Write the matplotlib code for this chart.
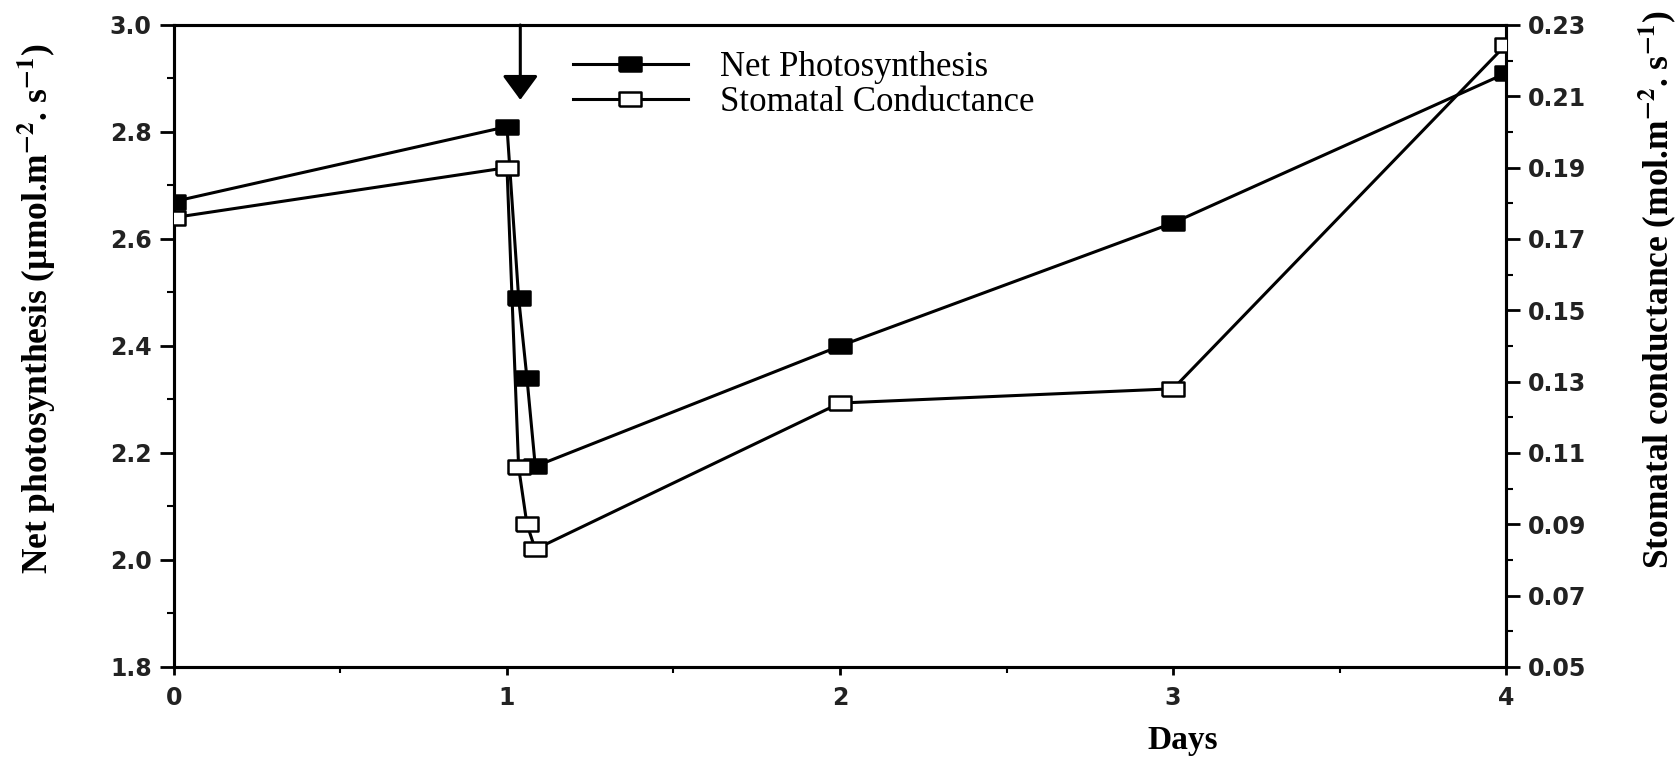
import matplotlib
matplotlib.use("Agg")
import matplotlib.pyplot as plt
from matplotlib.ticker import MultipleLocator, FixedLocator

# ---- data ----
days = [0, 1, 1.035, 1.06, 1.085, 2, 3, 4]
net_photosynthesis = [2.67, 2.81, 2.49, 2.34, 2.175, 2.40, 2.63, 2.91]
stomatal_conductance = [0.176, 0.190, 0.106, 0.090, 0.083, 0.124, 0.128, 0.2245]
x_ticks = [0, 1, 2, 3, 4]
left_ticks = [1.8, 2.0, 2.2, 2.4, 2.6, 2.8, 3.0]
right_ticks = [0.05, 0.07, 0.09, 0.11, 0.13, 0.15, 0.17, 0.19, 0.21, 0.23]
arrow_day = 1.04

plt.rcParams['mathtext.fontset'] = 'stix'

fig = plt.figure(figsize=(16.79, 7.71), dpi=100)
ax = fig.add_axes([0.1036, 0.1349, 0.7934, 0.8327])
ax2 = ax.twinx()

rect = [(-1, -0.62), (1, -0.62), (1, 0.62), (-1, 0.62), (-1, -0.62)]

l1, = ax.plot(days, net_photosynthesis, color='black', lw=2.2, marker=rect,
              markersize=16, markerfacecolor='black', markeredgecolor='black',
              markeredgewidth=1.8, label='Net Photosynthesis', zorder=3)
l2, = ax2.plot(days, stomatal_conductance, color='black', lw=2.2, marker=rect,
               markersize=16, markerfacecolor='white', markeredgecolor='black',
               markeredgewidth=1.8, label='Stomatal Conductance', zorder=3)

ax.set_xlim(0, 4)
ax.set_ylim(1.8, 3.0)
ax2.set_ylim(0.05, 0.23)

ax.xaxis.set_major_locator(FixedLocator(x_ticks))
ax.xaxis.set_minor_locator(MultipleLocator(0.5))
ax.yaxis.set_major_locator(FixedLocator(left_ticks))
ax.yaxis.set_minor_locator(MultipleLocator(0.1))
ax2.yaxis.set_major_locator(FixedLocator(right_ticks))
ax2.yaxis.set_minor_locator(MultipleLocator(0.01))

ax.set_xticklabels([str(v) for v in x_ticks])
ax.set_yticklabels([f"{v:.1f}" for v in left_ticks])
ax2.set_yticklabels([f"{v:.2f}" for v in right_ticks])

for lab in ax.get_xticklabels() + ax.get_yticklabels() + ax2.get_yticklabels():
    lab.set_fontfamily('DejaVu Sans')
    lab.set_fontweight('bold')
    lab.set_fontsize(17)
    lab.set_color('#222222')

ax.tick_params(axis='x', which='major', direction='out', length=6, width=2, pad=8, top=False)
ax.tick_params(axis='x', which='minor', direction='out', length=4, width=1.5, top=False)
ax.tick_params(axis='y', which='major', direction='out', length=10, width=2, pad=6)
ax.tick_params(axis='y', which='minor', direction='out', length=5, width=1.5)
ax2.tick_params(axis='y', which='major', direction='out', length=10, width=2, pad=6)
ax2.tick_params(axis='y', which='minor', direction='out', length=5, width=1.5)
ax2.tick_params(axis='x', top=False, bottom=False)

for a in (ax, ax2):
    for s in a.spines.values():
        s.set_linewidth(2.2)

# arrow
ax.annotate('', xy=(arrow_day, 2.86), xytext=(arrow_day, 3.0),
            arrowprops=dict(arrowstyle='-|>,head_width=0.55,head_length=0.75',
                            mutation_scale=20, color='black', lw=2.2,
                            shrinkA=0, shrinkB=0))

# axis labels
fig.text(0.022, 0.60,
         r'Net photosynthesis (µmol.m$^{\mathbf{-2}}$. s$^{\mathbf{-1}}$)',
         rotation=90, ha='center', va='center', fontfamily='Liberation Serif',
         fontweight='bold', fontsize=25.5)
fig.text(0.987, 0.625,
         r'Stomatal conductance (mol.m$^{\mathbf{-2}}$. s$^{\mathbf{-1}}$)',
         rotation=90, ha='center', va='center', fontfamily='Liberation Serif',
         fontweight='bold', fontsize=25.5)
fig.text(0.7046, 0.040, 'Days', ha='center', va='center',
         fontfamily='Liberation Serif', fontweight='bold', fontsize=24)

leg = ax2.legend(handles=[l1, l2], loc='upper left',
                 bbox_to_anchor=(573 / 1679, 1 - 51 / 771),
                 bbox_transform=fig.transFigure, frameon=False,
                 prop=dict(family='Liberation Serif', size=25),
                 handlelength=3.3, handletextpad=0.92, labelspacing=0.06,
                 borderpad=0, borderaxespad=0, numpoints=1)

fig.savefig('out.png', dpi=100, facecolor='white')
